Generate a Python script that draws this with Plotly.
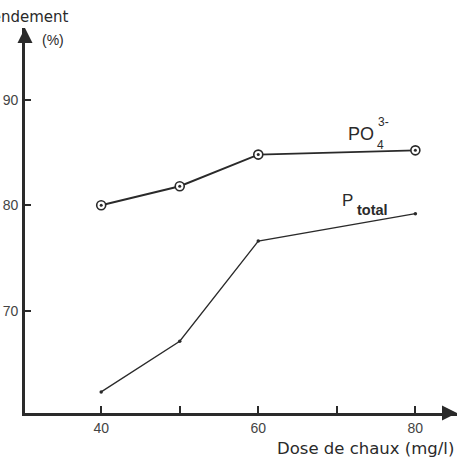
import plotly.graph_objects as go

dose = [40, 50, 60, 80]
po4 = [80.0, 81.8, 84.8, 85.2]
ptotal = [62.3, 67.1, 76.6, 79.2]
x_ticks = [40, 50, 60, 70, 80]
x_ticklabels = ["40", "", "60", "", "80"]
y_ticks = [70, 80, 90]

XR = [30.3, 85.3]
YR = [60.3, 96.8]
INK = "#2a2a2a"
FONT = "Liberation Sans, Arial, sans-serif"
WIDE = "DejaVu Sans, Verdana, sans-serif"

fig = go.Figure()
fig.add_trace(go.Scatter(x=dose, y=po4, mode="lines+markers",
                         line=dict(color=INK, width=1.9),
                         marker=dict(symbol="circle", size=9, color="white",
                                     line=dict(color=INK, width=1.6)),
                         cliponaxis=False, showlegend=False))
fig.add_trace(go.Scatter(x=dose, y=po4, mode="markers",
                         marker=dict(symbol="circle", size=3, color=INK),
                         cliponaxis=False, showlegend=False))
fig.add_trace(go.Scatter(x=dose, y=ptotal, mode="lines+markers",
                         line=dict(color=INK, width=1.3),
                         marker=dict(symbol="circle", size=3.5, color=INK),
                         cliponaxis=False, showlegend=False))

fig.update_xaxes(range=XR, showline=True, linewidth=2.7, linecolor=INK,
                 showgrid=False, zeroline=False, ticks="inside", ticklen=7,
                 tickwidth=1.5, tickcolor=INK, tickvals=x_ticks, automargin=False,
                 ticktext=x_ticklabels, tickfont=dict(family=FONT, size=14, color="#444"))
fig.update_yaxes(range=YR, showline=True, linewidth=2.7, linecolor=INK,
                 showgrid=False, zeroline=False, ticks="inside", ticklen=6,
                 tickwidth=1.5, tickcolor=INK, tickvals=y_ticks, automargin=False,
                 ticklabelstandoff=1,
                 tickfont=dict(family=FONT, size=14, color="#444"))

# axis arrows
fig.add_annotation(x=XR[1], y=YR[0], ax=-16, ay=0, xref="x", yref="y",
                   showarrow=True, arrowhead=2, arrowsize=1.2, arrowwidth=2.5,
                   arrowcolor=INK, text="")
fig.add_annotation(x=XR[0], y=YR[1], ax=0, ay=16, xref="x", yref="y",
                   showarrow=True, arrowhead=2, arrowsize=1.2, arrowwidth=2.5,
                   arrowcolor=INK, text="")

# axis titles
fig.add_annotation(x=0.106, y=1.029, xref="paper", yref="paper", xanchor="right",
                   yanchor="middle", text="Rendement", showarrow=False,
                   font=dict(family=WIDE, size=15, color=INK))
fig.add_annotation(x=0.065, y=0.969, xref="paper", yref="paper", xanchor="center",
                   yanchor="middle", text="(%)", showarrow=False,
                   font=dict(family=FONT, size=14, color=INK))
fig.add_annotation(x=0.997, y=-0.091, xref="paper", yref="paper", xanchor="right",
                   yanchor="middle", text="Dose de chaux (mg/l)", showarrow=False,
                   font=dict(family=WIDE, size=16.5, color=INK))

# series labels
fig.add_annotation(x=73.07, y=86.75, xref="x", yref="y", text="PO", showarrow=False,
                   font=dict(family=FONT, size=18, color=INK))
fig.add_annotation(x=76.0, y=87.85, xref="x", yref="y", text="3-", showarrow=False,
                   font=dict(family=FONT, size=12, color=INK))
fig.add_annotation(x=75.5, y=85.71, xref="x", yref="y", text="4", showarrow=False,
                   font=dict(family=FONT, size=12, color=INK))
fig.add_annotation(x=71.42, y=80.49, xref="x", yref="y", text="P", showarrow=False,
                   font=dict(family=FONT, size=17, color=INK))
fig.add_annotation(x=74.5, y=79.54, xref="x", yref="y", text="<b>total</b>",
                   showarrow=False, font=dict(family=FONT, size=14.5, color=INK))

fig.update_layout(width=457, height=458, paper_bgcolor="white", plot_bgcolor="white",
                  margin=dict(l=25, r=0, t=28, b=45), showlegend=False)

fig.write_html("out.html", config={"displayModeBar": False},
               post_script="document.body.style.margin='0';")
